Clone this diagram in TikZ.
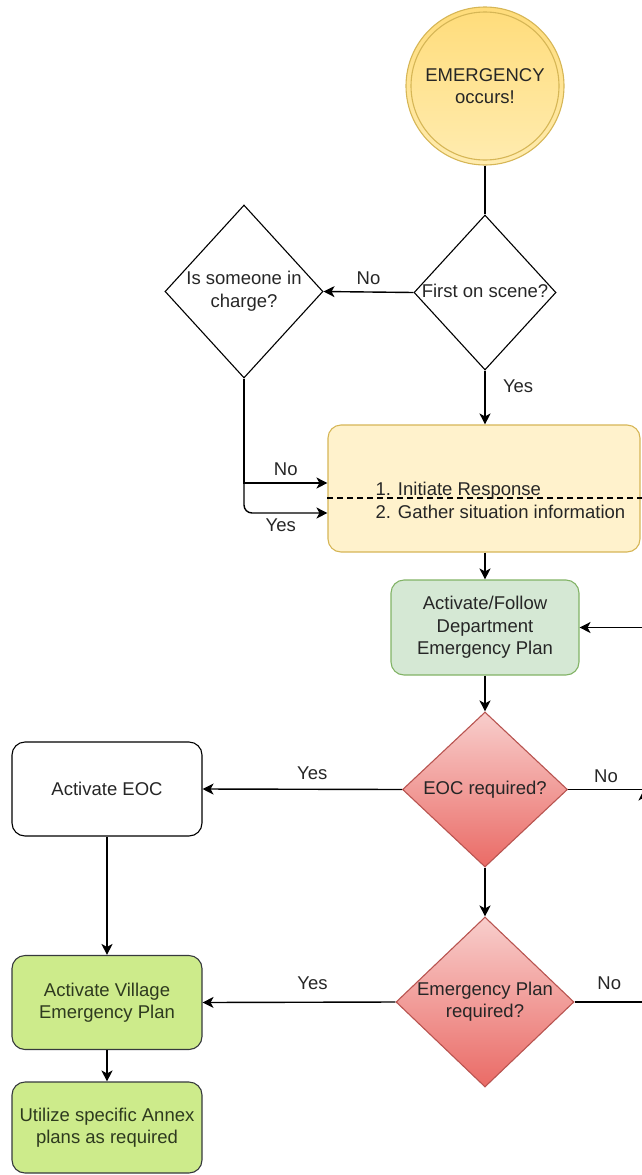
\documentclass[tikz,border=0pt]{standalone}
\usepackage{fontspec}
\setmainfont{Liberation Sans}
\usetikzlibrary{arrows.meta,shapes.geometric}
\tikzset{>={Stealth[length=11pt,width=11pt,inset=3pt]}}
\definecolor{ylwfill}{HTML}{FFF2CC}
\definecolor{ylwline}{HTML}{D6B656}
\definecolor{sunA}{HTML}{FFDC7A}
\definecolor{sunB}{HTML}{FFECB0}
\definecolor{grnfill}{HTML}{D5E8D4}
\definecolor{grnline}{HTML}{82B366}
\definecolor{limefill}{HTML}{CDEB8B}
\definecolor{limeline}{HTML}{36393D}
\definecolor{limetext}{HTML}{2E3A1F}
\definecolor{redtop}{HTML}{F8CECC}
\definecolor{redbot}{HTML}{EA6B66}
\definecolor{redline}{HTML}{B85450}
\definecolor{txt}{HTML}{262626}
\newcommand{\qtext}[1]{\makebox[0pt]{\begin{tabular}{@{}c@{}}#1\end{tabular}}}

\begin{document}
\begin{tikzpicture}[x=1pt,y=-1pt,line width=1.4pt,
    every node/.style={font=\fontsize{18.5}{22.5}\selectfont,text=txt,align=center},
    proc/.style={rectangle,rounded corners=13pt,minimum width=190pt,minimum height=94pt,inner sep=0pt,line width=1.1pt},
    ask/.style={diamond,inner sep=0pt,line width=1.1pt},
    redask/.style={ask,top color=redtop,bottom color=redbot,draw=redline},
    lime/.style={proc,fill=limefill,draw=limeline,text=limetext}]
  \useasboundingbox (0,0) rectangle (642,1175);
  \clip (0,0) rectangle (642,1175);

  \node[circle,minimum size=158pt,inner sep=0pt,top color=sunA,bottom color=sunB,draw=ylwline,line width=1.1pt] (emerg) at (485,86) {EMERGENCY\\occurs!};
  \draw[ylwline,line width=1.1pt] (emerg.center) circle[radius=74pt];

  \node[ask,draw,minimum width=142pt,minimum height=155pt] (first) at (485,292.5) {\qtext{First on scene?}};
  \node[ask,draw,minimum width=158pt,minimum height=173pt] (charge) at (244,291.5) {\qtext{Is someone in\\charge?}};

  \node[proc,minimum width=312pt,minimum height=127pt,fill=ylwfill,draw=ylwline] (resp) at (484,488.5) {};
  \draw[line width=1.1pt,dash pattern=on 6pt off 4pt] (resp.west |- 0,498) -- (646,498);
  \node[anchor=west,inner sep=0pt,align=left] (resptext) at (375,500.5) {1. Initiate Response\\2. Gather situation information};

  \node[proc,minimum width=188pt,minimum height=95pt,fill=grnfill,draw=grnline] (dept) at (485,627.5) {Activate/Follow\\Department\\Emergency Plan};

  \node[redask,minimum width=165pt,minimum height=155pt] (eoc) at (485,789.5) {\qtext{EOC required?}};
  \node[redask,minimum width=178pt,minimum height=170pt] (plan) at (485,1002) {\qtext{Emergency Plan\\required?}};

  \node[proc,draw=black,fill=white] (actEOC) at (107,789) {Activate EOC};
  \node[lime] (village) at (107,1002.5) {Activate Village\\Emergency Plan};
  \node[lime,minimum height=91pt] (annex) at (107,1127.5) {Utilize specific Annex\\plans as required};

  \coordinate (fork) at (244,483);
  \coordinate (eocR) at (644,789.5);
  \coordinate (planR) at (644,1002);

  \draw (emerg.south) -- (first.north);
  \draw[->] (first.west) -- node[above=3pt]{No} (charge.east);
  \draw[->] (first.south) -- node[right=14pt,pos=0.3]{Yes} (resp.north -| first.south);
  \draw[->] (charge.south) -- (fork) -- node[above=3pt]{No} (fork -| resp.west);
  \draw[->,rounded corners=8pt] (fork) |- node[below=2pt,pos=0.72]{Yes} ([yshift=-24.5pt]resp.west);
  \draw[->] (resp.south -| dept.north) -- (dept.north);
  \draw[->] (dept.south) -- (eoc.north);
  \draw[->] (eoc.west) -- node[above=6pt,pos=0.45]{Yes} (actEOC.east);
  \draw[->] (eoc.east) -- node[above=3pt]{No} (eocR) |- (dept.east);
  \draw[->] (eoc.south) -- (plan.north);
  \draw[->] (plan.west) -- node[above=9pt,pos=0.43]{Yes} (village.east);
  \draw[->] (plan.east) -- node[above=8pt]{No} (planR) -- (eocR);
  \draw[->] (actEOC.south) -- (village.north);
  \draw[->] (village.south) -- (annex.north);
\end{tikzpicture}
\end{document}
